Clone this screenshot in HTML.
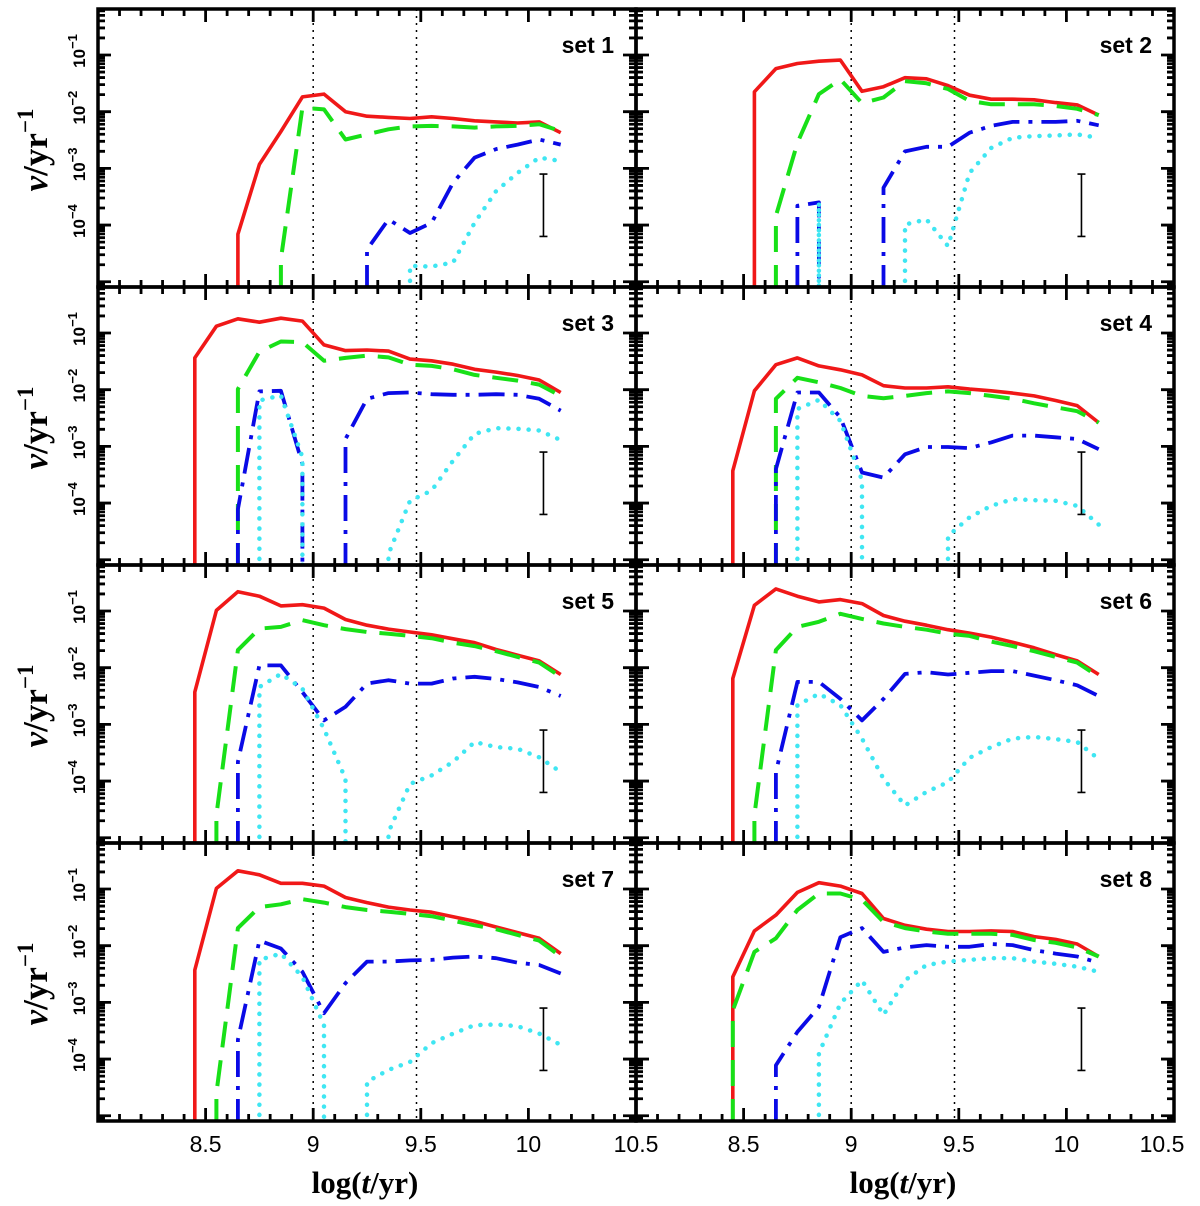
<!DOCTYPE html>
<html><head><meta charset="utf-8">
<style>
html,body{margin:0;padding:0;background:#fff;}
svg{display:block;}
</style></head>
<body>
<svg id="chart" xmlns="http://www.w3.org/2000/svg" width="1200" height="1206" viewBox="0 0 1200 1206"></svg>
<script>
// shared x grid: log(t/yr)
const xGrid = [8.45,8.55,8.65,8.75,8.85,8.95,9.05,9.15,9.25,9.35,9.45,9.55,9.65,9.75,9.85,9.95,10.05,10.15];
const xTickLabels = ["8.5","9","9.5","10","10.5"];
const xTickValues = [8.5,9,9.5,10,10.5];
const yTickLabelExps = [-1,-2,-3,-4];
const vLineValues = [9.0,9.48];
const errorBarX = 10.07;
const errorBarLog = [-3.1,-4.2];
const setLabels = ["set 1","set 2","set 3","set 4","set 5","set 6","set 7","set 8"];
// log10(nu / yr^-1)
const set1Red   = [null,null,-4.16,-2.93,-2.35,-1.74,-1.69,-2.0,-2.08,-2.1,-2.12,-2.09,-2.12,-2.16,-2.18,-2.2,-2.18,-2.37];
const set1Green = [null,null,null,null,-4.6,-1.93,-1.96,-2.49,-2.4,-2.31,-2.26,-2.25,-2.26,-2.28,-2.26,-2.25,-2.22,-2.34];
const set1Blue  = [null,null,null,null,null,null,null,null,-4.43,-3.9,-4.14,-3.96,-3.25,-2.81,-2.66,-2.58,-2.49,-2.58];
const set1Cyan  = [null,null,null,null,null,null,null,null,null,null,-4.72,-4.73,-4.66,-3.96,-3.4,-3.08,-2.81,-2.87];
const set2Red   = [null,-1.65,-1.24,-1.15,-1.11,-1.09,-1.64,-1.56,-1.4,-1.42,-1.54,-1.71,-1.78,-1.78,-1.79,-1.84,-1.88,-2.06];
const set2Green = [null,null,-3.84,-2.55,-1.69,-1.43,-1.85,-1.75,-1.46,-1.5,-1.6,-1.81,-1.87,-1.87,-1.87,-1.9,-1.95,-2.06];
const set2Blue  = [null,null,null,-3.66,-3.6,null,null,-3.34,-2.7,-2.62,-2.62,-2.37,-2.25,-2.18,-2.18,-2.18,-2.16,-2.24];
const set2Cyan  = [null,null,null,null,-3.6,null,null,null,-3.99,-3.9,-4.37,-3.08,-2.64,-2.46,-2.43,-2.42,-2.4,-2.46];
const set3Red   = [-1.44,-0.88,-0.75,-0.81,-0.74,-0.79,-1.21,-1.31,-1.3,-1.32,-1.46,-1.49,-1.55,-1.64,-1.69,-1.75,-1.83,-2.05];
const set3Green = [null,null,-1.99,-1.33,-1.15,-1.16,-1.49,-1.44,-1.4,-1.43,-1.56,-1.58,-1.64,-1.74,-1.79,-1.84,-1.91,-2.11];
const set3Blue  = [null,null,-4.11,-2.03,-2.02,-3.31,null,-2.87,-2.16,-2.06,-2.05,-2.08,-2.09,-2.09,-2.08,-2.09,-2.16,-2.37];
const set3Cyan  = [null,null,null,-2.19,-2.1,-3.19,null,null,null,-4.9,-3.96,-3.78,-3.25,-2.78,-2.68,-2.69,-2.72,-2.89];
const set4Red   = [-3.43,-2.02,-1.56,-1.44,-1.58,-1.65,-1.74,-1.93,-1.97,-1.97,-1.95,-1.99,-2.02,-2.06,-2.11,-2.19,-2.28,-2.58];
const set4Green = [null,null,-2.16,-1.79,-1.87,-1.97,-2.11,-2.15,-2.11,-2.06,-2.03,-2.06,-2.11,-2.16,-2.24,-2.31,-2.38,-2.58];
const set4Blue  = [null,null,-3.4,-2.05,-2.05,-2.49,-3.46,-3.55,-3.14,-3.01,-3.01,-3.03,-2.93,-2.81,-2.81,-2.84,-2.87,-3.05];
const set4Cyan  = [null,null,null,-2.34,-2.18,-2.55,-3.6,null,null,null,-4.58,-4.25,-4.05,-3.93,-3.95,-3.96,-4.05,-4.38];
const set5Red   = [-2.43,-0.99,-0.66,-0.74,-0.91,-0.89,-0.95,-1.15,-1.25,-1.32,-1.37,-1.42,-1.49,-1.56,-1.68,-1.78,-1.88,-2.12];
const set5Green = [null,-4.6,-1.69,-1.31,-1.28,-1.16,-1.25,-1.32,-1.37,-1.4,-1.44,-1.48,-1.56,-1.62,-1.71,-1.81,-1.91,-2.16];
const set5Blue  = [null,null,-3.66,-1.96,-1.96,-2.43,-2.93,-2.69,-2.28,-2.22,-2.28,-2.28,-2.19,-2.16,-2.2,-2.26,-2.34,-2.5];
const set5Cyan  = [null,null,null,-2.34,-2.11,-2.37,-3.08,-3.96,null,-4.9,-4.05,-3.9,-3.66,-3.31,-3.4,-3.43,-3.58,-3.84];
const set6Red   = [-2.19,-0.9,-0.61,-0.74,-0.84,-0.8,-0.87,-1.08,-1.18,-1.25,-1.33,-1.39,-1.46,-1.55,-1.65,-1.77,-1.88,-2.12];
const set6Green = [null,-4.6,-1.69,-1.28,-1.19,-1.05,-1.14,-1.22,-1.28,-1.33,-1.4,-1.44,-1.54,-1.62,-1.71,-1.81,-1.91,-2.16];
const set6Blue  = [null,null,-3.84,-2.25,-2.25,-2.55,-2.93,-2.55,-2.11,-2.08,-2.12,-2.09,-2.06,-2.06,-2.14,-2.22,-2.31,-2.5];
const set6Cyan  = [null,null,null,-2.66,-2.46,-2.66,-3.25,-3.96,-4.43,-4.19,-4.02,-3.59,-3.4,-3.25,-3.22,-3.26,-3.31,-3.61];
const set7Red   = [-2.43,-0.99,-0.68,-0.75,-0.9,-0.9,-0.95,-1.15,-1.24,-1.32,-1.37,-1.41,-1.49,-1.57,-1.67,-1.77,-1.87,-2.14];
const set7Green = [null,-4.6,-1.69,-1.32,-1.27,-1.18,-1.24,-1.32,-1.37,-1.4,-1.44,-1.48,-1.56,-1.64,-1.71,-1.81,-1.91,-2.19];
const set7Blue  = [null,null,-3.66,-1.91,-2.05,-2.46,-3.19,-2.66,-2.28,-2.28,-2.26,-2.25,-2.21,-2.19,-2.22,-2.3,-2.34,-2.49];
const set7Cyan  = [null,null,null,-2.25,-2.14,-2.55,-3.4,null,-4.4,-4.19,-4.05,-3.72,-3.55,-3.4,-3.39,-3.42,-3.55,-3.75];
const set8Red   = [-2.55,-1.74,-1.46,-1.06,-0.89,-0.95,-1.08,-1.52,-1.64,-1.71,-1.75,-1.75,-1.74,-1.75,-1.84,-1.89,-1.97,-2.19];
const set8Green = [-3.14,-2.11,-1.87,-1.37,-1.08,-1.08,-1.19,-1.58,-1.69,-1.75,-1.79,-1.79,-1.79,-1.81,-1.9,-1.95,-2.03,-2.19];
const set8Blue  = [null,null,-4.11,-3.52,-3.08,-1.85,-1.69,-2.11,-2.03,-1.99,-2.02,-2.02,-1.97,-1.99,-2.08,-2.14,-2.19,-2.3];
const set8Cyan  = [null,null,null,null,-3.9,-3.02,-2.61,-3.22,-2.61,-2.34,-2.28,-2.25,-2.22,-2.22,-2.28,-2.32,-2.37,-2.46];

const panelSeries = [
  [set1Red,set1Green,set1Blue,set1Cyan],[set2Red,set2Green,set2Blue,set2Cyan],
  [set3Red,set3Green,set3Blue,set3Cyan],[set4Red,set4Green,set4Blue,set4Cyan],
  [set5Red,set5Green,set5Blue,set5Cyan],[set6Red,set6Green,set6Blue,set6Cyan],
  [set7Red,set7Green,set7Blue,set7Cyan],[set8Red,set8Green,set8Blue,set8Cyan]
];
const seriesNames = ["total-rate","channel-a","channel-b","channel-c"];
const seriesStyles = [
  {stroke:"#f01818",dash:"",w:3.6,cap:"butt"},
  {stroke:"#18e018",dash:"26 13",w:4,cap:"butt"},
  {stroke:"#0a0ae6",dash:"26 9 4 9",w:3.8,cap:"butt"},
  {stroke:"#3fe6f2",dash:"0.1 10",w:4.5,cap:"round"}
];

const NS="http://www.w3.org/2000/svg";
const svg=document.getElementById('chart');
const PX0=98, PY0=9, PW=538, PH=278;
const XMIN=8.0, XMAX=10.5;
const DEC=56.7, YMAX=-0.189, YMIN=YMAX-PH/DEC;

function mk(tag,attrs,parent){const e=document.createElementNS(NS,tag);for(const k in attrs)e.setAttribute(k,attrs[k]);(parent||svg).appendChild(e);return e;}

const defs=mk('defs',{});

for(let p=0;p<8;p++){
  const col=p%2,row=Math.floor(p/2);
  const x0=PX0+col*PW,y0=PY0+row*PH;
  const sx=v=>x0+(v-XMIN)/(XMAX-XMIN)*PW;
  const sy=v=>y0+(YMAX-v)*DEC;
  const bottom=y0+PH;
  const g=mk('g',{});
  
  
  const cp=mk('clipPath',{id:'clip'+p},defs);
  mk('rect',{x:x0,y:y0,width:PW,height:PH},cp);

  vLineValues.forEach(v=>{
    const l=mk('line',{x1:sx(v),x2:sx(v),y1:y0,y2:bottom,stroke:'#000','stroke-width':1.5,'stroke-dasharray':'2 5'},g);
    
    
  });

  const dg=mk('g',{'clip-path':'url(#clip'+p+')'},g);
  panelSeries[p].forEach((vals,si)=>{
    let d='';
    for(let i=0;i<vals.length;i++){
      const v=vals[i]; if(v===null) continue;
      const X=sx(xGrid[i]).toFixed(1),Y=sy(v).toFixed(1);
      const prevNull=(i===0||vals[i-1]===null);
      if(prevNull) d+='M'+X+','+(bottom+4)+'L'+X+','+Y;
      else d+='L'+X+','+Y;
      if(i<vals.length-1&&vals[i+1]===null) d+='L'+X+','+(bottom+4);
    }
    const st=seriesStyles[si];
    const path=mk('path',{d:d,fill:'none',stroke:st.stroke,'stroke-width':st.w,'stroke-linecap':st.cap,'stroke-linejoin':'round'},dg);
    if(st.dash) path.setAttribute('stroke-dasharray',st.dash);
    
    
  });

  const ex=sx(errorBarX),ey1=sy(errorBarLog[0]),ey2=sy(errorBarLog[1]);
  const eb=mk('path',{d:`M${ex},${ey1}L${ex},${ey2}M${ex-4},${ey1}L${ex+4},${ey1}M${ex-4},${ey2}L${ex+4},${ey2}`,stroke:'#000','stroke-width':1.6,fill:'none'},g);
  
  

  let td='';
  for(let k=0;k<=25;k++){
    const v=XMIN+k*0.1; const X=sx(v);
    const major=(k%5===0); const L=major?13:7;
    td+=`M${X},${bottom}L${X},${bottom-L}M${X},${y0}L${X},${y0+L}`;
  }
  for(let e=-6;e<=0;e++){
    for(let m=1;m<=9;m++){
      const v=e+Math.log10(m);
      if(v<YMIN||v>YMAX) continue;
      const Y=sy(v); const L=(m===1)?13:7;
      td+=`M${x0},${Y}L${x0+L},${Y}M${x0+PW},${Y}L${x0+PW-L},${Y}`;
    }
  }
  const tk=mk('path',{d:td,stroke:'#000','stroke-width':2.8,fill:'none'},g);
  
  

  const fr=mk('rect',{x:x0,y:y0,width:PW,height:PH,fill:'none',stroke:'#000','stroke-width':3.5},g);
  
  

  const sl=mk('text',{x:x0+PW-22,y:y0+44,'text-anchor':'end','font-family':'Liberation Sans, sans-serif','font-weight':'bold','font-size':23},g);
  sl.textContent=setLabels[p];
  
  

  if(col===0){
    yTickLabelExps.forEach(e=>{
      const Y=sy(e);
      const t=mk('text',{x:0,y:0,transform:`translate(85,${Y-4}) rotate(-90)`,'text-anchor':'middle','font-family':'Liberation Sans, sans-serif','font-weight':'bold','font-size':17},g);
      
      
      const a=mk('tspan',{},t); a.textContent='10';
      const b=mk('tspan',{dy:-8,'font-size':13}, t); b.textContent='\u2212'+(-e);
    });
    const yt=mk('text',{x:0,y:0,transform:`translate(47,${y0+PH/2+2}) rotate(-90)`,'text-anchor':'middle','font-family':'Liberation Serif, serif','font-weight':'bold','font-size':35},g);
    
    
    const n=mk('tspan',{'font-style':'italic'},yt); n.textContent='\u03bd';
    const s=mk('tspan',{},yt); s.textContent='/yr';
    const sup=mk('tspan',{dy:-14,'font-size':23},yt); sup.textContent='\u22121';
  }

  if(row===3){
    xTickValues.forEach((v,i)=>{
      if(col===0&&i===4) return;
      let X=sx(v); if(col===1&&i===4) X-=12;
      const t=mk('text',{x:X,y:bottom+31,'text-anchor':'middle','font-family':'Liberation Sans, sans-serif','font-size':23},g);
      t.textContent=xTickLabels[i];
      
      
    });
    const xt=mk('text',{x:x0+PW/2-2,y:bottom+72,'text-anchor':'middle','font-family':'Liberation Serif, serif','font-weight':'bold','font-size':31},g);
    
    
    const a=mk('tspan',{},xt); a.textContent='log(';
    const b=mk('tspan',{'font-style':'italic'},xt); b.textContent='t';
    const c=mk('tspan',{},xt); c.textContent='/yr)';
  }
  if(row===3&&col===0){
    const t=mk('text',{x:x0+PW,y:bottom+31,'text-anchor':'middle','font-family':'Liberation Sans, sans-serif','font-size':23},g);
    t.textContent=xTickLabels[4];
    
    
  }
}
</script>
</body></html>
